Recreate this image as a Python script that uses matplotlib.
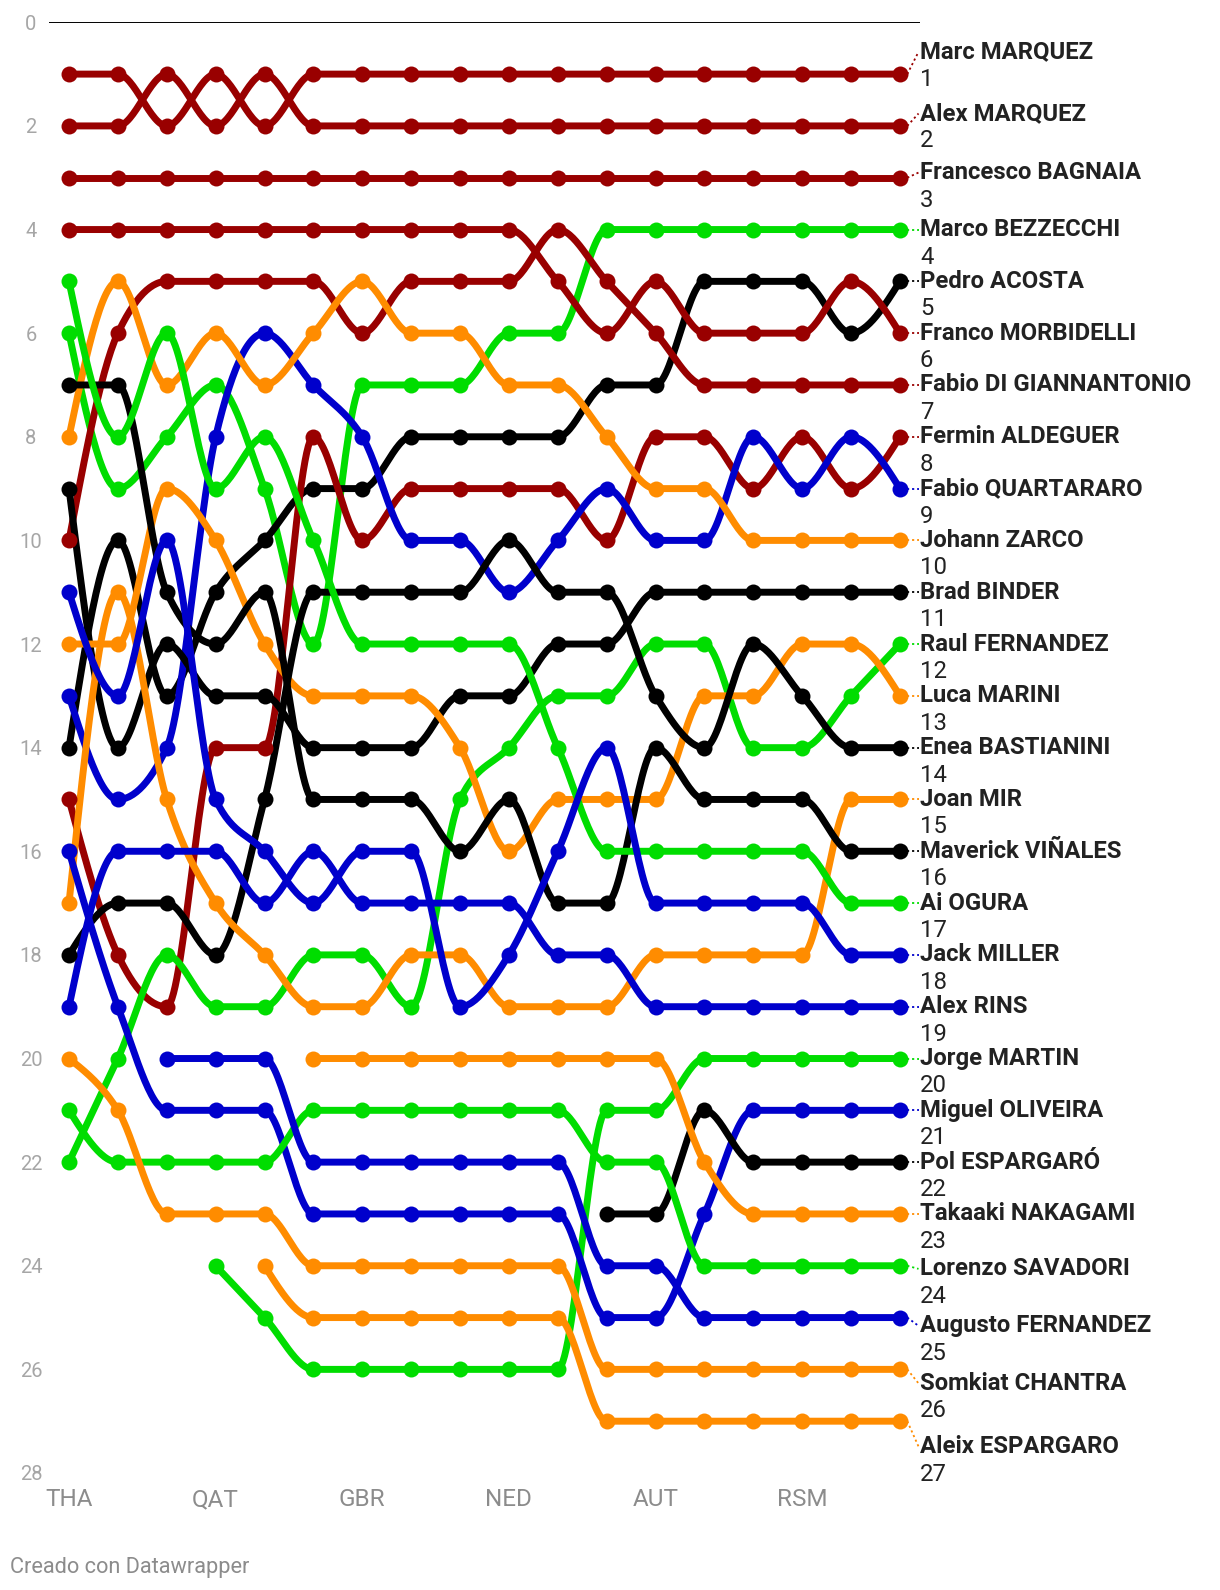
import numpy as np
import matplotlib.pyplot as plt
from matplotlib import transforms

plt.rcParams['font.family'] = ['Roboto', 'DejaVu Sans']

# rounds of the season (standings after each one)
rounds = ["THA", "ARG", "AME", "QAT", "SPA", "FRA", "GBR", "ARA", "ITA",
          "NED", "GER", "CZE", "AUT", "HUN", "CAT", "RSM", "JPN", "INA"]
tick_rounds = ["THA", "QAT", "GBR", "NED", "AUT", "RSM"]

n = np.nan
# championship position after each round (nan = not yet classified)
marc_marquez = [1, 1, 2, 1, 2, 1, 1, 1, 1, 1, 1, 1, 1, 1, 1, 1, 1, 1]
alex_marquez = [2, 2, 1, 2, 1, 2, 2, 2, 2, 2, 2, 2, 2, 2, 2, 2, 2, 2]
bagnaia = [3, 3, 3, 3, 3, 3, 3, 3, 3, 3, 3, 3, 3, 3, 3, 3, 3, 3]
bezzecchi = [6, 9, 8, 7, 9, 12, 7, 7, 7, 6, 6, 4, 4, 4, 4, 4, 4, 4]
acosta = [14, 10, 13, 11, 10, 9, 9, 8, 8, 8, 8, 7, 7, 5, 5, 5, 6, 5]
morbidelli = [4, 4, 4, 4, 4, 4, 4, 4, 4, 4, 5, 6, 5, 6, 6, 6, 5, 6]
di_giannantonio = [10, 6, 5, 5, 5, 5, 6, 5, 5, 5, 4, 5, 6, 7, 7, 7, 7, 7]
aldeguer = [15, 18, 19, 14, 14, 8, 10, 9, 9, 9, 9, 10, 8, 8, 9, 8, 9, 8]
quartararo = [13, 15, 14, 8, 6, 7, 8, 10, 10, 11, 10, 9, 10, 10, 8, 9, 8, 9]
zarco = [8, 5, 7, 6, 7, 6, 5, 6, 6, 7, 7, 8, 9, 9, 10, 10, 10, 10]
binder = [9, 14, 12, 13, 13, 14, 14, 14, 13, 13, 12, 12, 11, 11, 11, 11, 11, 11]
raul_fernandez = [22, 20, 18, 19, 19, 18, 18, 19, 15, 14, 13, 13, 12, 12, 14, 14, 13, 12]
marini = [12, 12, 9, 10, 12, 13, 13, 13, 14, 16, 15, 15, 15, 13, 13, 12, 12, 13]
bastianini = [18, 17, 17, 18, 15, 11, 11, 11, 11, 10, 11, 11, 13, 14, 12, 13, 14, 14]
mir = [17, 11, 15, 17, 18, 19, 19, 18, 18, 19, 19, 19, 18, 18, 18, 18, 15, 15]
vinales = [7, 7, 11, 12, 11, 15, 15, 15, 16, 15, 17, 17, 14, 15, 15, 15, 16, 16]
ogura = [5, 8, 6, 9, 8, 10, 12, 12, 12, 12, 14, 16, 16, 16, 16, 16, 17, 17]
miller = [11, 13, 10, 15, 16, 17, 16, 16, 19, 18, 16, 14, 17, 17, 17, 17, 18, 18]
rins = [19, 16, 16, 16, 17, 16, 17, 17, 17, 17, 18, 18, 19, 19, 19, 19, 19, 19]
martin = [n, n, n, 24, 25, 26, 26, 26, 26, 26, 26, 21, 21, 20, 20, 20, 20, 20]
oliveira = [16, 19, 21, 21, 21, 23, 23, 23, 23, 23, 23, 25, 25, 23, 21, 21, 21, 21]
pol_espargaro = [n, n, n, n, n, n, n, n, n, n, n, 23, 23, 21, 22, 22, 22, 22]
nakagami = [n, n, n, n, n, 20, 20, 20, 20, 20, 20, 20, 20, 22, 23, 23, 23, 23]
savadori = [21, 22, 22, 22, 22, 21, 21, 21, 21, 21, 21, 22, 22, 24, 24, 24, 24, 24]
augusto_fernandez = [n, n, 20, 20, 20, 22, 22, 22, 22, 22, 22, 24, 24, 25, 25, 25, 25, 25]
chantra = [20, 21, 23, 23, 23, 24, 24, 24, 24, 24, 24, 26, 26, 26, 26, 26, 26, 26]
aleix_espargaro = [n, n, n, n, 24, 25, 25, 25, 25, 25, 25, 27, 27, 27, 27, 27, 27, 27]

names = ["Marc MARQUEZ", "Alex MARQUEZ", "Francesco BAGNAIA", "Marco BEZZECCHI",
         "Pedro ACOSTA", "Franco MORBIDELLI", "Fabio DI GIANNANTONIO",
         "Fermin ALDEGUER", "Fabio QUARTARARO", "Johann ZARCO", "Brad BINDER",
         "Raul FERNANDEZ", "Luca MARINI", "Enea BASTIANINI", "Joan MIR",
         "Maverick VIÑALES", "Ai OGURA", "Jack MILLER", "Alex RINS",
         "Jorge MARTIN", "Miguel OLIVEIRA", "Pol ESPARGARÓ", "Takaaki NAKAGAMI",
         "Lorenzo SAVADORI", "Augusto FERNANDEZ", "Somkiat CHANTRA",
         "Aleix ESPARGARO"]
series = [marc_marquez, alex_marquez, bagnaia, bezzecchi, acosta, morbidelli,
          di_giannantonio, aldeguer, quartararo, zarco, binder, raul_fernandez,
          marini, bastianini, mir, vinales, ogura, miller, rins, martin,
          oliveira, pol_espargaro, nakagami, savadori, augusto_fernandez,
          chantra, aleix_espargaro]

ducati, aprilia, honda, yamaha, ktm = "#990000", "#00dd00", "#ff8c00", "#0000cc", "#000000"
colors = [ducati, ducati, ducati, aprilia, ktm, ducati, ducati, ducati, yamaha,
          honda, ktm, aprilia, honda, ktm, honda, ktm, aprilia, yamaha, yamaha,
          aprilia, yamaha, ktm, honda, aprilia, yamaha, honda, honda]

# label nudges (in position units) where Datawrapper spread the labels
label_shift = [-0.43, -0.24, -0.1] + [0.0] * 20 + [0.06, 0.16, 0.27, 0.49]


def monotone(xs, ys, steps=30):
    """monotone cubic interpolation like d3.curveMonotoneX"""
    xs = np.asarray(xs, float)
    ys = np.asarray(ys, float)
    m = len(xs)
    if m < 3:
        return xs, ys
    h = np.diff(xs)
    s = np.diff(ys) / h
    t = np.zeros(m)
    for i in range(1, m - 1):
        p = (s[i - 1] * h[i] + s[i] * h[i - 1]) / (h[i - 1] + h[i])
        t[i] = (np.sign(s[i - 1]) + np.sign(s[i])) * min(abs(s[i - 1]), abs(s[i]), 0.5 * abs(p))
    t[0] = (3 * s[0] - t[1]) / 2
    t[-1] = (3 * s[-1] - t[-2]) / 2
    px, py = [], []
    u = np.linspace(0, 1, steps)
    for i in range(m - 1):
        h00 = 2 * u**3 - 3 * u**2 + 1
        h10 = u**3 - 2 * u**2 + u
        h01 = -2 * u**3 + 3 * u**2
        h11 = u**3 - u**2
        px.append(xs[i] + u * h[i])
        py.append(h00 * ys[i] + h10 * h[i] * t[i] + h01 * ys[i + 1] + h11 * h[i] * t[i + 1])
    return np.concatenate(px), np.concatenate(py)


fig = plt.figure(figsize=(12.2, 15.9), dpi=100)
ax = fig.add_axes([49 / 1220, 1 - 1473 / 1590, 871 / 1220, 1450.7 / 1590])

x_all = np.arange(len(rounds))
for vals, col in zip(series, colors):
    v = np.asarray(vals, float)
    ok = ~np.isnan(v)
    cx, cy = monotone(x_all[ok], v[ok])
    ax.plot(cx, cy, color=col, lw=5, solid_capstyle='round', zorder=2)
    ax.plot(x_all[ok], v[ok], 'o', color=col, ms=11.5, mew=0, zorder=3)

ax.axhline(0, color='black', lw=1.4, zorder=1)
ax.set_xlim(-0.409, 17.41)
ax.set_ylim(28, 0)

ax.set_yticks(range(0, 29, 2))
ax.set_yticklabels([str(v) for v in range(0, 29, 2)], ha='center')
ax.set_xticks([rounds.index(r) for r in tick_rounds])
ax.set_xticklabels(tick_rounds)
ax.tick_params(axis='y', length=0, pad=13, labelsize=14.5, labelcolor='#a6a6a6')
ax.tick_params(axis='x', length=0, pad=11, labelsize=17.5, labelcolor='#8c8c8c')
for sp in ax.spines.values():
    sp.set_visible(False)

# end labels
tr = transforms.blended_transform_factory(ax.transAxes, ax.transData)
for name, vals, col, shift in zip(names, series, colors, label_shift):
    last = vals[-1]
    ly = last + shift
    ax.plot([17.15, 17.38], [last, ly], color=col, lw=1.3, ls=(0, (1.2, 1.6)),
            clip_on=False, zorder=1)
    ax.text(1.0, ly, name, transform=tr, ha='left', va='center',
            fontsize=17.2, fontweight='bold', color='#222222', clip_on=False)
    ax.text(1.0, ly + 0.53, str(int(last)), transform=tr, ha='left', va='center',
            fontsize=17.2, color='#222222', clip_on=False)

fig.text(10 / 1220, 1 - 1568 / 1590, "Creado con Datawrapper", ha='left',
         va='center', fontsize=15.7, color='#8c8c8c')

fig.savefig("out.png", dpi=100)
